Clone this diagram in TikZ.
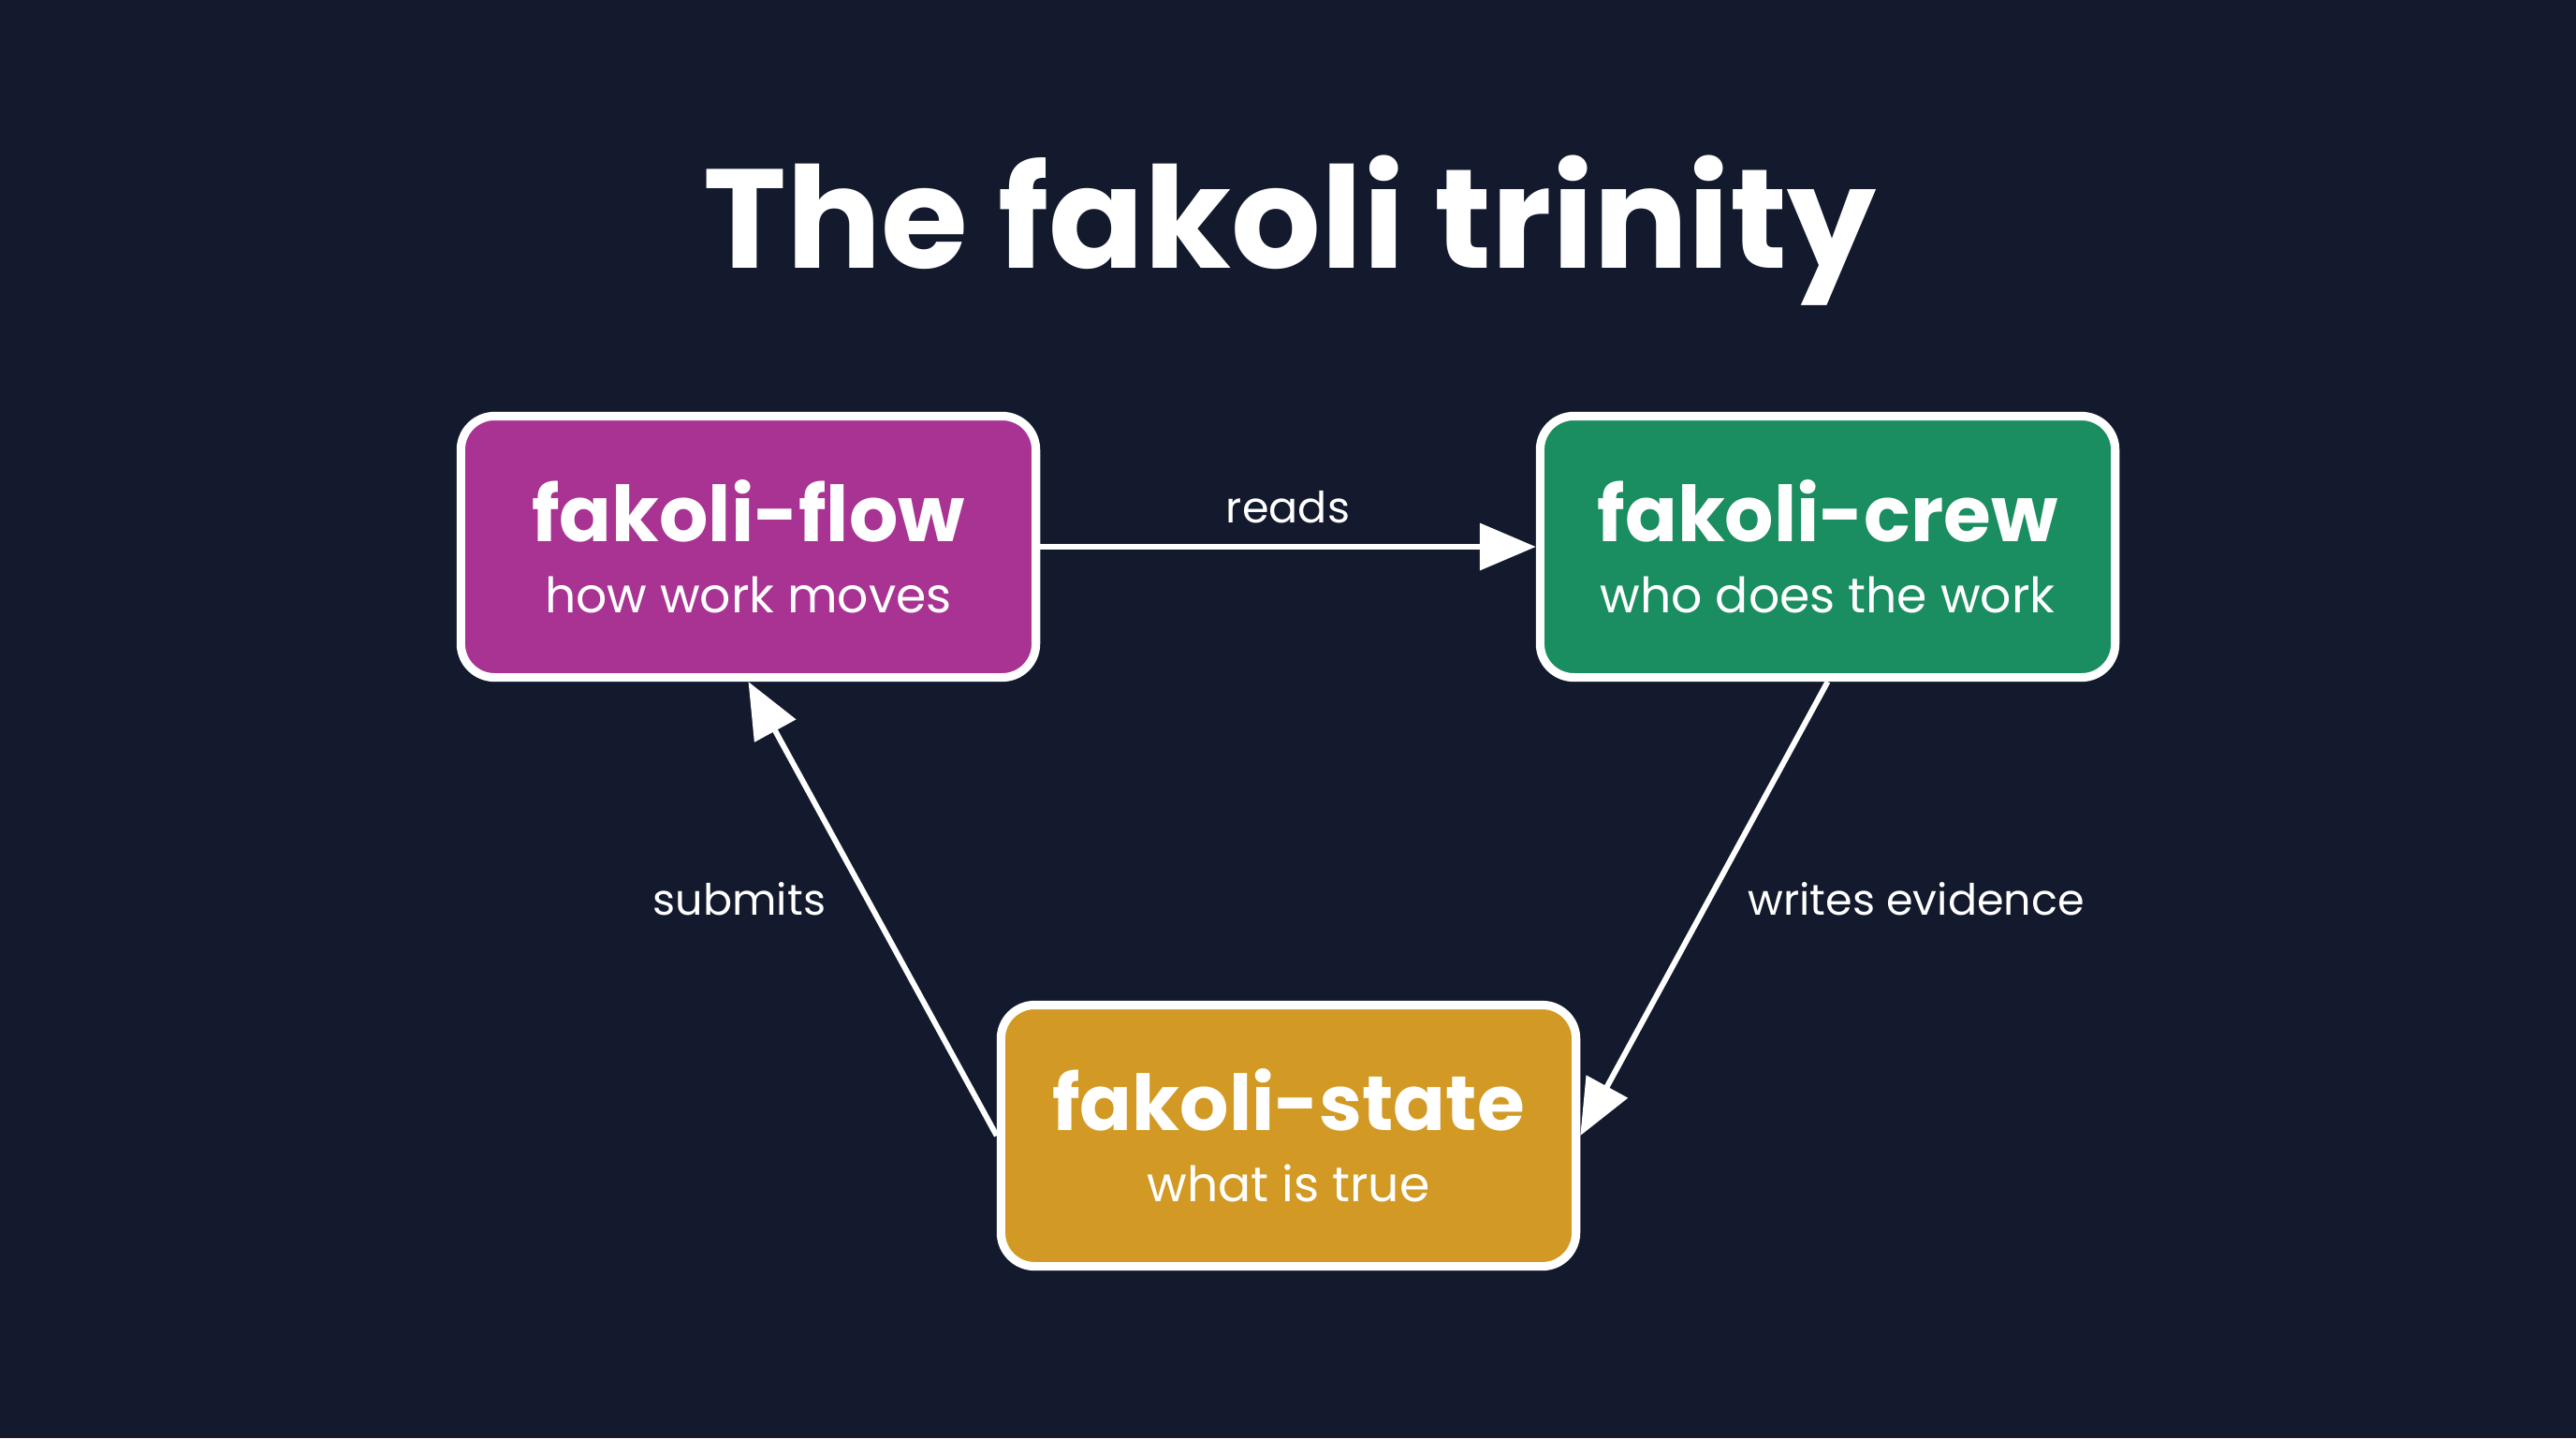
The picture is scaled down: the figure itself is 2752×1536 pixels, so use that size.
\documentclass[tikz,border=0pt]{standalone}
\usepackage{fontspec}
\setmainfont{Poppins}
\usetikzlibrary{arrows.meta}
\definecolor{bg}{HTML}{131A2D}
\definecolor{cflow}{HTML}{A83393}
\definecolor{ccrew}{HTML}{1A8E60}
\definecolor{cstate}{HTML}{D29A24}
\newcommand{\boxtitle}{\fontsize{23.4}{28}\selectfont\bfseries}
\begin{document}
\begin{tikzpicture}[x=0.01cm,y=-0.01cm,
  box/.style={draw=white, line width=2.6pt, rounded corners=0.36cm,
    minimum width=6.14cm, minimum height=2.79cm, align=center, text=white,
    font=\fontsize{14.8}{21.5}\selectfont, inner sep=0pt},
  conn/.style={draw=white, line width=1.7pt, -{Triangle[length=17pt,width=14pt]}},
  lbl/.style={text=white, font=\fontsize{13.1}{16}\selectfont, inner sep=0pt}]
\fill[bg] (0,0) rectangle (2752,1536);
\useasboundingbox (0,0) rectangle (2752,1536);
\node[text=white, anchor=base, font=\fontsize{42.8}{52}\selectfont\bfseries] (title) at (1378,286) {The fakoli trinity};
\node[box, fill=cflow] (flow) at (799.5,584) {{\boxtitle fakoli-flow}\\how work moves};
\node[box, fill=ccrew] (crew) at (1952.5,584) {{\boxtitle fakoli-crew}\\who does the work};
\node[box, fill=cstate] (state) at (1376.5,1213) {{\boxtitle fakoli-state}\\what is true};
\draw[conn] (flow.east) -- node[lbl, midway, above=0.22cm] (lreads) {reads} (crew.west);
\draw[conn] (crew.south) -- node[lbl, midway, anchor=west, xshift=0.44cm, yshift=0.1cm] (lwrites) {writes evidence} (state.east);
\draw[conn] (state.west) -- node[lbl, midway, anchor=east, xshift=-0.47cm, yshift=0.1cm] (lsubmits) {submits} (flow.south);
\end{tikzpicture}
\end{document}
